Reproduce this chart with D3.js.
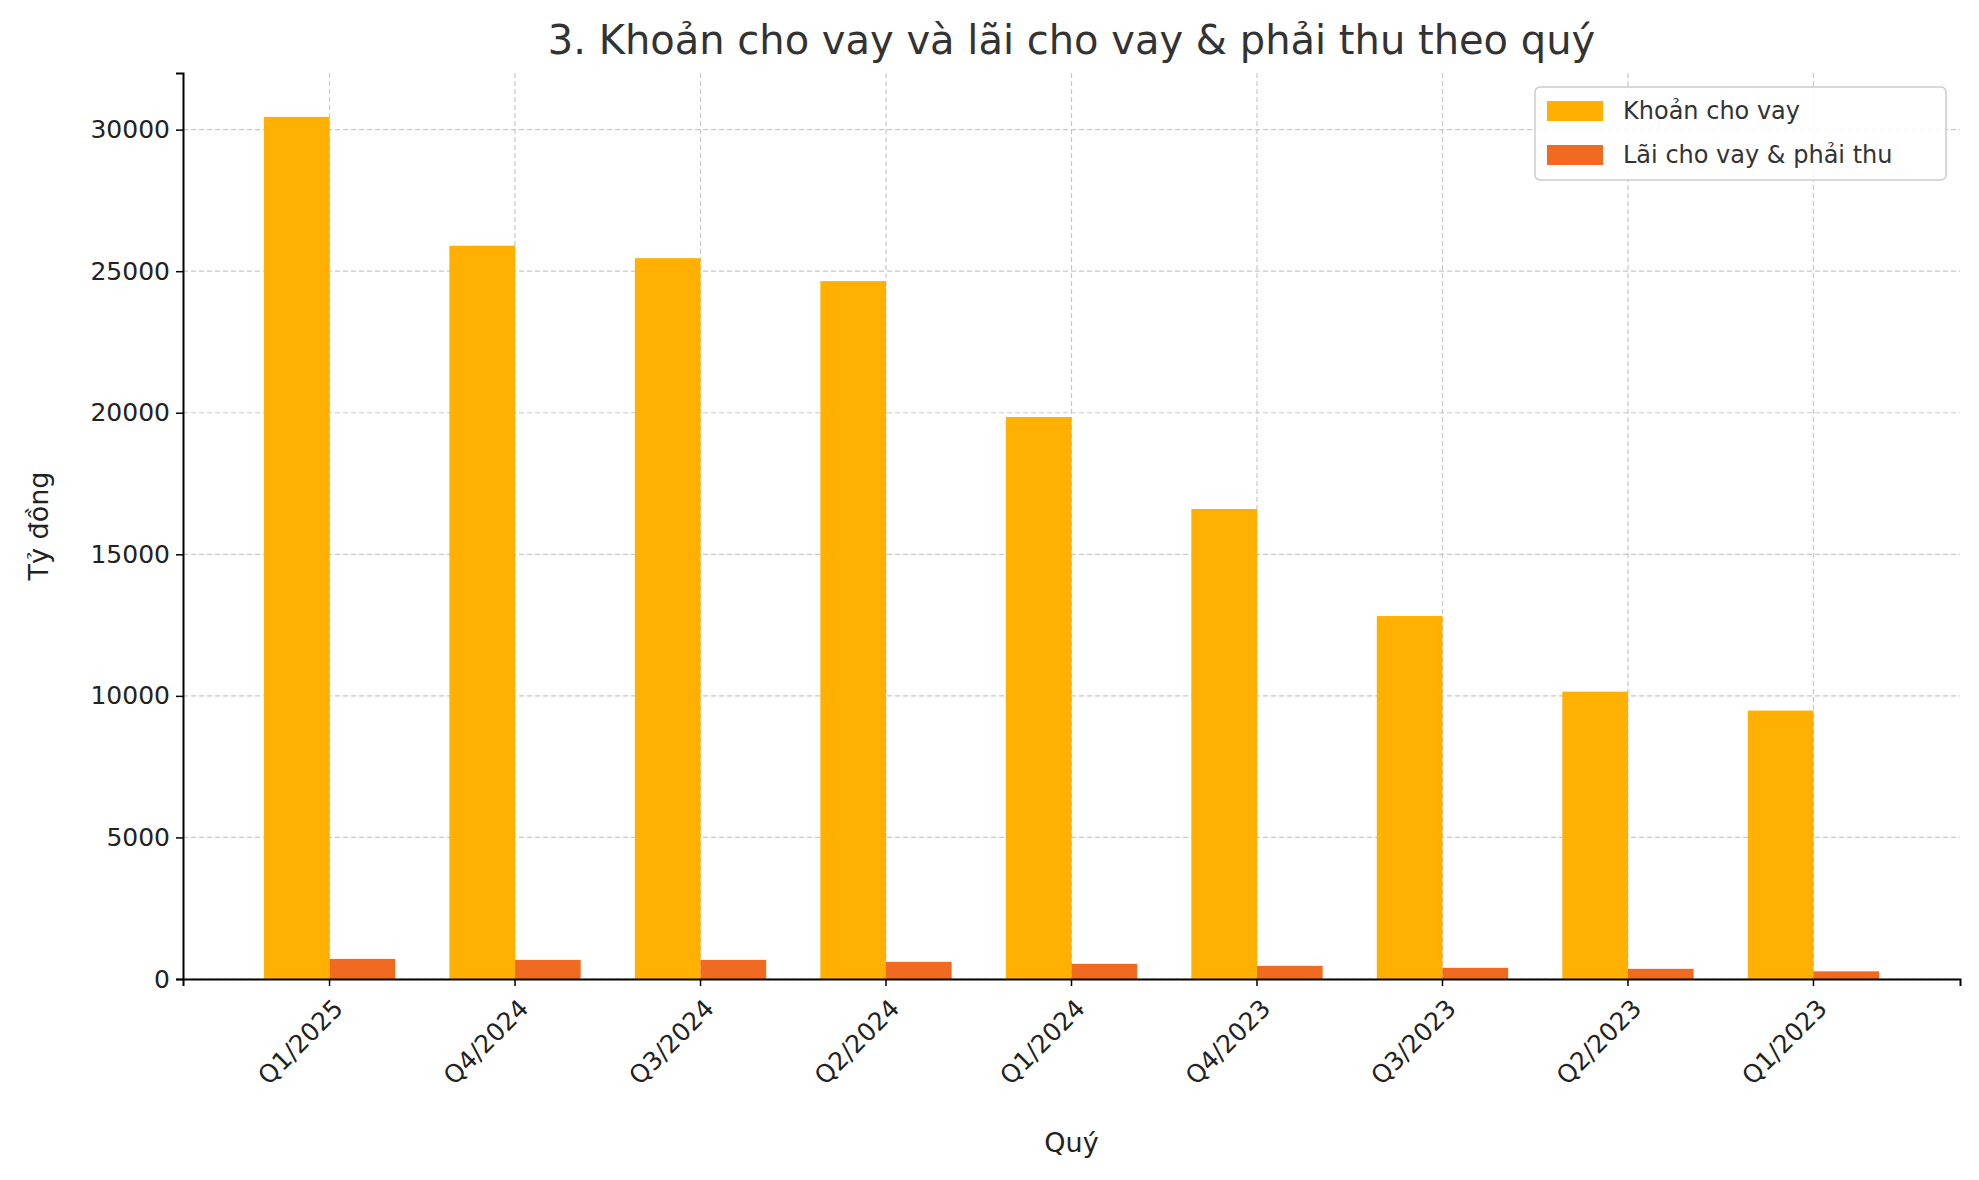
<!DOCTYPE html><html><head><meta charset="utf-8"><script src="https://cdn.jsdelivr.net/npm/d3@7"></script>
<style>body{margin:0;background:#fff}text{font-family:"DejaVu Sans",sans-serif}</style></head><body>
<svg id="c" width="1979" height="1180"></svg>
<script>
const categories=["Q1/2025","Q4/2024","Q3/2024","Q2/2024","Q1/2024","Q4/2023","Q3/2023","Q2/2023","Q1/2023"];
const loans=[30450,25900,25460,24650,19850,16600,12820,10150,9480];
const interest=[710,675,675,605,535,465,395,360,270];
const yTicks=[0,5000,10000,15000,20000,25000,30000];
const seriesNames=["Khoản cho vay","Lãi cho vay & phải thu"];
const colors=["#FFB000","#F06A22"];
const svg=d3.select("#c");
const L=183,R=1960,T=73,B=979;
const x=d3.scaleBand().domain(categories).range([L,R]).paddingInner(0).paddingOuter(0.29);
const step=x.step(), bw=step*0.354;
const cx=d=>x(d)+x.bandwidth()/2;
const y=d3.scaleLinear().domain([0,32000]).range([B,T]);
// grid
const g=svg.append("g");
g.selectAll(".hg").data(yTicks).join("line").attr("x1",L).attr("x2",R).attr("y1",d=>y(d)).attr("y2",d=>y(d)).attr("stroke","#c8c8c8").attr("stroke-dasharray","5,3").attr("stroke-width",1.2);
g.selectAll(".vg").data(categories).join("line").attr("x1",cx).attr("x2",cx).attr("y1",T).attr("y2",B).attr("stroke","#c8c8c8").attr("stroke-dasharray","5,3").attr("stroke-width",1.2);
svg.selectAll(".b1").data(categories).join("rect").attr("x",d=>cx(d)-bw).attr("width",bw).attr("y",(d,i)=>y(loans[i])).attr("height",(d,i)=>B-y(loans[i])).attr("fill",colors[0]);
svg.selectAll(".b2").data(categories).join("rect").attr("x",d=>cx(d)).attr("width",bw).attr("y",(d,i)=>y(interest[i])).attr("height",(d,i)=>B-y(interest[i])).attr("fill",colors[1]);
const ya=svg.append("g").attr("transform",`translate(${L},0)`).call(d3.axisLeft(y).tickValues(yTicks).tickSize(7).tickFormat(d3.format("d")));
const xa=svg.append("g").attr("transform",`translate(0,${B})`).call(d3.axisBottom(x).tickSize(7));
[ya,xa].forEach(a=>{a.select(".domain").attr("stroke","#000").attr("stroke-width",2);a.selectAll("text").attr("font-size",25).attr("fill","#222");a.selectAll(".tick line").attr("stroke","#000").attr("stroke-width",1.5);});
xa.selectAll(".tick").attr("transform",d=>`translate(${cx(d)},0)`);
xa.selectAll("text").attr("text-anchor","end").attr("dy",0).attr("transform","translate(8,24) rotate(-45)");
ya.selectAll("text").attr("dx",-3);
svg.append("text").attr("x",(L+R)/2).attr("y",54).attr("text-anchor","middle").attr("font-size",40).attr("fill","#333").text("3. Khoản cho vay và lãi cho vay & phải thu theo quý");
svg.append("text").attr("x",(L+R)/2).attr("y",1152).attr("text-anchor","middle").attr("font-size",27).attr("fill","#222").text("Quý");
svg.append("text").attr("transform",`translate(48,${(T+B)/2}) rotate(-90)`).attr("text-anchor","middle").attr("font-size",27).attr("fill","#222").text("Tỷ đồng");
const lg=svg.append("g").attr("transform","translate(1535,87)");
lg.append("rect").attr("width",411).attr("height",93).attr("rx",5).attr("fill","#fff").attr("fill-opacity",0.85).attr("stroke","#ccc").attr("stroke-width",1.5);
seriesNames.forEach((n,i)=>{lg.append("rect").attr("x",12).attr("y",14+i*44).attr("width",56).attr("height",20).attr("fill",colors[i]);
lg.append("text").attr("x",88).attr("y",32+i*44).attr("font-size",24).attr("fill","#333").text(n);});
</script></body></html>
